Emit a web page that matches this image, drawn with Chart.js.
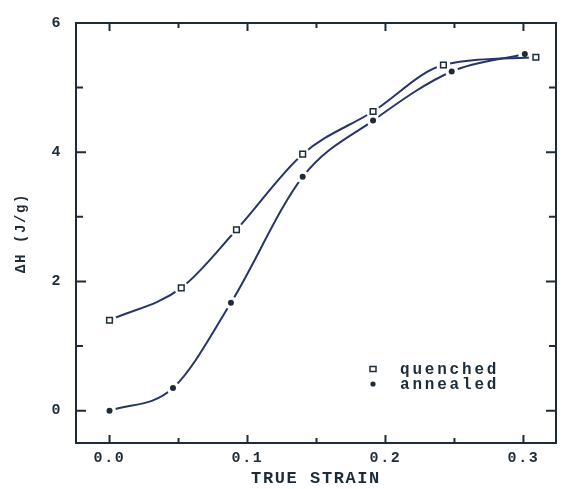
<!DOCTYPE html>
<html lang="en">
<head>
<meta charset="UTF-8">
<title>ΔH vs true strain</title>
<script src="https://cdn.jsdelivr.net/npm/chart.js"></script>
<style>
  html, body { margin: 0; padding: 0; background: #fff; }
  #wrap { width: 563px; height: 489px; }
</style>
</head>
<body>
<div id="wrap"><canvas id="chart" width="563" height="489"></canvas></div>
<script>
// values
const quenchedStrain = [0.0, 0.052, 0.092, 0.140, 0.191, 0.242, 0.309];
const quenchedDH     = [1.40, 1.90, 2.80, 3.97, 4.63, 5.35, 5.47];
const annealedStrain = [0.0, 0.046, 0.088, 0.140, 0.191, 0.248, 0.301];
const annealedDH     = [0.00, 0.35, 1.67, 3.62, 4.49, 5.25, 5.52];

const xMajor = [0.0, 0.1, 0.2, 0.3];
const xMinor = [0.05, 0.15, 0.25];
const yMajor = [0, 2, 4, 6];
const yMinor = [1, 3, 5];
const legendLabels = ['quenched', 'annealed'];

const ink = '#1d2c38';
const curve = '#283568';
const mono = '"Liberation Mono", "DejaVu Sans Mono", monospace';

const pts = (xs, ys) => xs.map((x, i) => ({ x, y: ys[i] }));

// box around the plot with inward tick marks on all four sides
const frame = {
  id: 'frame',
  beforeDraw(chart) {
    chart.ctx.letterSpacing = '1.6px';
  },
  afterDatasetsDraw(chart) {
    const { ctx, chartArea: a, scales: { x, y } } = chart;
    ctx.save();
    ctx.strokeStyle = ink;
    ctx.lineWidth = 2;
    ctx.strokeRect(a.left, a.top, a.right - a.left, a.bottom - a.top);
    ctx.beginPath();
    const xt = (v, len) => {
      const px = x.getPixelForValue(v);
      ctx.moveTo(px, a.bottom); ctx.lineTo(px, a.bottom - len);
      ctx.moveTo(px, a.top); ctx.lineTo(px, a.top + len);
    };
    const yt = (v, len) => {
      const py = y.getPixelForValue(v);
      ctx.moveTo(a.left, py); ctx.lineTo(a.left + len, py);
      ctx.moveTo(a.right, py); ctx.lineTo(a.right - len, py);
    };
    xMajor.forEach(v => xt(v, 8));
    xMinor.forEach(v => xt(v, 5));
    yMajor.forEach(v => yt(v, 10));
    yMinor.forEach(v => yt(v, 7));
    ctx.stroke();
    ctx.restore();
  },
  afterDraw(chart) {
    // legend inside the plot, lower right
    const { ctx } = chart;
    ctx.save();
    ctx.letterSpacing = '2.8px';
    ctx.font = 'bold 16px ' + mono;
    ctx.textBaseline = 'middle';
    const lx = 373, ly = [369, 384];
    ctx.fillStyle = '#fff';
    ctx.strokeStyle = ink;
    ctx.lineWidth = 1.5;
    ctx.fillRect(lx - 3, ly[0] - 2.5, 6, 5);
    ctx.strokeRect(lx - 3, ly[0] - 2.5, 6, 5);
    ctx.fillStyle = ink;
    ctx.beginPath();
    ctx.arc(lx, ly[1], 2.6, 0, Math.PI * 2);
    ctx.fill();
    legendLabels.forEach((t, i) => ctx.fillText(t, 400, ly[i] + 1));
    ctx.restore();
  }
};

new Chart(document.getElementById('chart'), {
  type: 'scatter',
  data: {
    datasets: [
      { label: legendLabels[0], data: pts(quenchedStrain, quenchedDH), showLine: false,
        pointStyle: 'rect', pointRadius: 4, backgroundColor: '#fff', borderColor: ink, borderWidth: 1.5 },
      { label: legendLabels[1], data: pts(annealedStrain, annealedDH), showLine: false,
        pointStyle: 'circle', pointRadius: 3, backgroundColor: ink, borderWidth: 0 },
      // fitted curves; white point halos leave the small gaps around the markers
      { label: 'quenched curve', data: pts(quenchedStrain, quenchedDH), showLine: true,
        cubicInterpolationMode: 'monotone', borderColor: curve, borderWidth: 2,
        pointRadius: 7, pointBackgroundColor: '#fff', pointBorderWidth: 0 },
      { label: 'annealed curve', data: pts(annealedStrain, annealedDH), showLine: true,
        cubicInterpolationMode: 'monotone', borderColor: curve, borderWidth: 2,
        pointRadius: 6.5, pointBackgroundColor: '#fff', pointBorderWidth: 0 }
    ]
  },
  options: {
    responsive: false,
    animation: false,
    layout: { padding: { left: 0, top: 12, right: 1, bottom: 0 } },
    plugins: { legend: { display: false }, tooltip: { enabled: false } },
    scales: {
      x: {
        type: 'linear', min: -0.0243, max: 0.3236,
        grid: { display: false, drawTicks: false }, border: { display: false },
        afterBuildTicks: s => { s.ticks = xMajor.map(v => ({ value: v })); },
        afterFit: s => { s.height = 46; },
        ticks: { padding: 6, maxRotation: 0, color: ink,
          font: { family: mono, size: 15, weight: 'bold' },
          callback: v => v.toFixed(1) },
        title: { display: true, text: 'TRUE STRAIN', color: ink,
          font: { family: mono, size: 17, weight: 'bold' }, padding: { top: 0, bottom: 0 } }
      },
      y: {
        min: -0.5, max: 6,
        grid: { display: false, drawTicks: false }, border: { display: false },
        afterBuildTicks: s => { s.ticks = yMajor.map(v => ({ value: v })); },
        afterFit: s => { s.width = 76; },
        ticks: { padding: 14, color: ink,
          font: { family: mono, size: 15, weight: 'bold' },
          callback: v => String(v) },
        title: { display: true, text: 'ΔH (J/g)', color: ink,
          font: { family: mono, size: 14, weight: 'bold' }, padding: { top: 13, bottom: 0 } }
      }
    }
  },
  plugins: [frame]
});
</script>
</body>
</html>
